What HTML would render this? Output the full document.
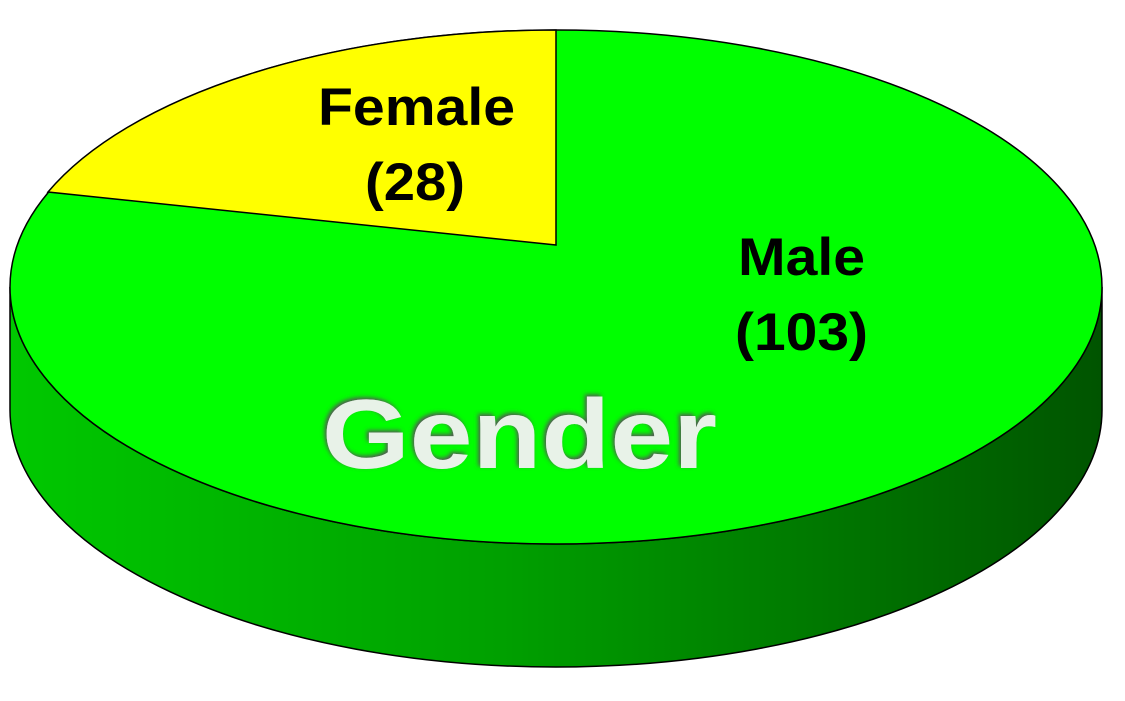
<!DOCTYPE html>
<html><head><style>html,body{margin:0;padding:0;background:#fff;}svg{display:block}</style></head>
<body>
<svg width="1125" height="701" viewBox="0 0 1125 701" xmlns="http://www.w3.org/2000/svg">
<defs>
<linearGradient id="side" x1="10" y1="0" x2="1102" y2="0" gradientUnits="userSpaceOnUse">
<stop offset="0" stop-color="#00c800"/>
<stop offset="0.45" stop-color="#00a000"/>
<stop offset="1" stop-color="#005400"/>
</linearGradient>
<filter id="sh" x="-10%" y="-10%" width="120%" height="130%">
<feGaussianBlur in="SourceAlpha" stdDeviation="2"/>
<feOffset dx="-2" dy="-2" result="b"/>
<feFlood flood-color="#555"/>
<feComposite in2="b" operator="in" result="s"/>
<feMerge><feMergeNode in="s"/><feMergeNode in="SourceGraphic"/></feMerge>
</filter>
</defs>
<path d="M10,287 L10,410 A546,257 0 0 0 1102,410 L1102,287 A546,257 0 0 1 10,287 Z" fill="url(#side)" stroke="#000" stroke-width="1.5"/>
<ellipse cx="556" cy="287" rx="546" ry="257" fill="#00ff00" stroke="#000" stroke-width="1.5"/>
<path d="M556,245 L48,192 A546,257 0 0 1 556,30 Z" fill="#ffff00" stroke="#000" stroke-width="1.5"/>
<g font-family="Liberation Sans, sans-serif" font-weight="bold" fill="#000" font-size="53" lengthAdjust="spacingAndGlyphs">
<text x="318" y="125" textLength="197" lengthAdjust="spacingAndGlyphs">Female</text>
<text x="365" y="200" textLength="100" lengthAdjust="spacingAndGlyphs">(28)</text>
<text x="738" y="275" textLength="127" lengthAdjust="spacingAndGlyphs">Male</text>
<text x="735" y="350" textLength="133" lengthAdjust="spacingAndGlyphs">(103)</text>
</g>
<text x="322" y="468" font-family="Liberation Sans, sans-serif" font-weight="bold" font-size="98" fill="#e8f2e8" textLength="395" lengthAdjust="spacingAndGlyphs" filter="url(#sh)">Gender</text>
</svg>
</body></html>
